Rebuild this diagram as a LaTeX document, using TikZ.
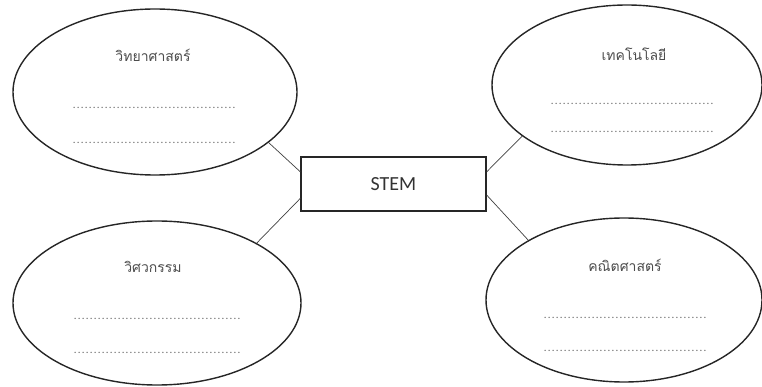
\documentclass[tikz,border=0pt]{standalone}
\usepackage{fontspec}
\setmainfont{Carlito}
\newfontfamily\thaifont[Script=Thai]{Loma}
\usetikzlibrary{shapes.geometric,calc}

% a row of typed dots to write on, one dot every 4pt
\newcommand\dotrow[1]{\foreach \k in {1,...,#1}{\makebox[4pt]{.}}}

\begin{document}
\begin{tikzpicture}[x=1pt,y=-1pt,
  bubble/.style={ellipse,draw=black!85,line width=1.4pt,inner sep=0pt},
  hub/.style={rectangle,draw=black!85,line width=1.4pt,minimum width=185pt,minimum height=54pt,inner sep=0pt,font=\fontsize{20}{22}\selectfont,text=black!80},
  topic/.style={font=\thaifont\fontsize{14}{16}\selectfont,text=black!70,inner sep=0pt},
  blank/.style={anchor=base west,inner sep=0pt,font=\fontsize{11}{11}\selectfont,text=black!60},
  link/.style={draw=black!75,line width=0.7pt}]
\useasboundingbox (0,0) rectangle (762,387);

% subject bubbles
\node[bubble,minimum width=284pt,minimum height=166pt] (sci) at (155,92) {};
\node[bubble,minimum width=270pt,minimum height=160pt] (tech) at (627,85) {};
\node[bubble,minimum width=288pt,minimum height=164pt] (eng) at (157,303) {};
\node[bubble,minimum width=276pt,minimum height=164pt] (math) at (624,300) {};

% central box
\node[hub] (stem) at (393.5,184) {STEM};

% subject names
\node[topic] (sciname) at (153,55) {วิทยาศาสตร์};
\node[topic] (techname) at (634,54) {เทคโนโลยี};
\node[topic] (engname) at (153,267) {วิศวกรรม};
\node[topic] (mathname) at (625,265) {คณิตศาสตร์};

% lines to write on
\node[blank] (sci1) at (72,109) {\dotrow{41}};
\node[blank] (sci2) at (72,144) {\dotrow{41}};
\node[blank] (tech1) at (550,105) {\dotrow{41}};
\node[blank] (tech2) at (550,133) {\dotrow{41}};
\node[blank] (eng1) at (73,319) {\dotrow{42}};
\node[blank] (eng2) at (73,353) {\dotrow{42}};
\node[blank] (math1) at (543,318) {\dotrow{41}};
\node[blank] (math2) at (543,351) {\dotrow{41}};

% connectors from the box to each bubble
\draw[link] (sci.-24.7) -- ($(stem.north west)!0.28!(stem.south west)$);
\draw[link] (eng.31) -- ($(stem.north west)!0.76!(stem.south west)$);
\draw[link] (tech.-154.3) -- ($(stem.north east)!0.28!(stem.south east)$);
\draw[link] (math.148.8) -- ($(stem.north east)!0.70!(stem.south east)$);
\end{tikzpicture}
\end{document}
